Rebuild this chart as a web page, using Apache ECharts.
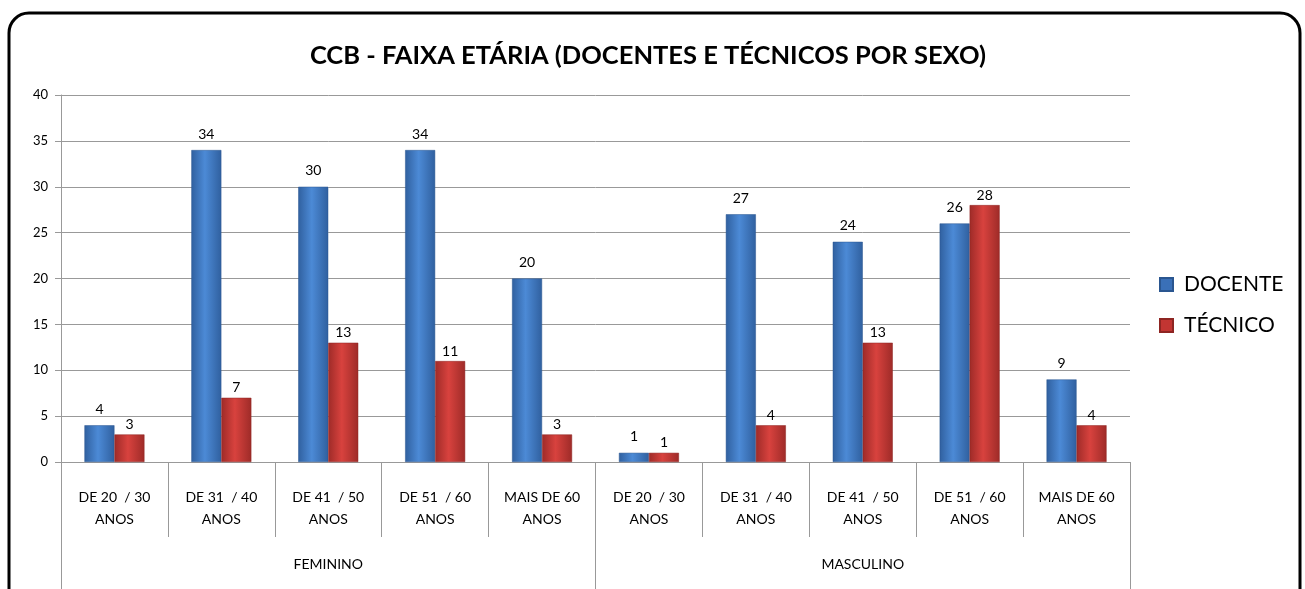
<!DOCTYPE html>
<html>
<head>
<meta charset="utf-8">
<script src="https://cdn.jsdelivr.net/npm/echarts@6/dist/echarts.min.js"></script>
<style>
  html, body { margin: 0; padding: 0; background: #fff; }
  #chart { width: 1305px; height: 589px; }
</style>
</head>
<body>
<div id="chart"></div>
<script>
// faixas etárias (repetidas para cada sexo)
var faixas = ['DE 20  / 30\nANOS', 'DE 31  / 40\nANOS', 'DE 41  / 50\nANOS', 'DE 51  / 60\nANOS', 'MAIS DE 60\nANOS',
              'DE 20  / 30\nANOS', 'DE 31  / 40\nANOS', 'DE 41  / 50\nANOS', 'DE 51  / 60\nANOS', 'MAIS DE 60\nANOS'];
var sexos = ['FEMININO', 'MASCULINO'];
var docente = [4, 34, 30, 34, 20, 1, 27, 24, 26, 9];
var tecnico = [3, 7, 13, 11, 3, 1, 4, 13, 28, 4];
var yTicks = { min: 0, max: 40, step: 5 };

var fonte = 'Lato, "Open Sans", sans-serif';

// gradiente horizontal para dar o efeito "cilindro" das barras
function grad(borda, meio) {
  return new echarts.graphic.LinearGradient(0, 0, 1, 0, [
    { offset: 0, color: borda },
    { offset: 0.45, color: meio },
    { offset: 1, color: borda }
  ]);
}

var myChart = echarts.init(document.getElementById('chart'));
var option = {
  animation: false,
  backgroundColor: '#fff',
  graphic: [{
    type: 'rect',
    shape: { x: 9, y: 13, width: 1291, height: 610, r: 20 },
    style: { fill: 'none', stroke: '#000', lineWidth: 3 },
    z: 100
  }],
  title: {
    text: 'CCB - FAIXA ETÁRIA (DOCENTES E TÉCNICOS POR SEXO)',
    left: 643,
    textAlign: 'center',
    top: 38,
    textStyle: { fontFamily: fonte, fontWeight: 'bold', fontSize: 25.5, color: '#000' }
  },
  legend: {
    orient: 'vertical',
    left: 1154,
    top: 269,
    itemGap: 20,
    itemWidth: 13,
    itemHeight: 13,
    icon: 'rect',
    textStyle: { fontFamily: fonte, fontSize: 21, color: '#000', padding: [0, 0, 0, 6] },
    data: [
      { name: 'DOCENTE', itemStyle: { color: '#3a70b8' } },
      { name: 'TÉCNICO', itemStyle: { color: '#c23532' } }
    ]
  },
  grid: { left: 61, right: 175, top: 95, bottom: 127 },
  xAxis: [{
    type: 'category',
    data: faixas,
    axisLine: { show: true, lineStyle: { color: '#999', width: 1 } },
    axisTick: { show: true, interval: 0, length: 75, lineStyle: { color: '#999', width: 1 } },
    axisLabel: { interval: 0, margin: 24, fontFamily: fonte, fontSize: 14, lineHeight: 22, color: '#000' }
  }, {
    type: 'category',
    data: sexos,
    position: 'bottom',
    axisLine: { show: false },
    axisTick: { show: true, interval: 0, length: 130, lineStyle: { color: '#999', width: 1 } },
    axisLabel: { margin: 95, fontFamily: fonte, fontSize: 14, color: '#000' }
  }],
  yAxis: {
    type: 'value',
    min: yTicks.min,
    max: yTicks.max,
    interval: yTicks.step,
    axisLine: { show: true, lineStyle: { color: '#999' } },
    axisTick: { show: true, length: 6, lineStyle: { color: '#999' } },
    axisLabel: { margin: 13, fontFamily: fonte, fontSize: 13, color: '#000' },
    splitLine: { lineStyle: { color: '#999', width: 1 } }
  },
  series: [{
    name: 'DOCENTE',
    type: 'bar',
    data: docente,
    barWidth: 30,
    barGap: '0%',
    itemStyle: { color: grad('#30609f', '#4c8ad6'), borderColor: '#2a5690', borderWidth: 0.5 },
    label: { show: true, position: 'top', distance: 9, fontFamily: fonte, fontSize: 14, color: '#000' }
  }, {
    name: 'TÉCNICO',
    type: 'bar',
    data: tecnico,
    barWidth: 30,
    itemStyle: { color: grad('#9e2b28', '#d8423e'), borderColor: '#8e2522', borderWidth: 0.5 },
    label: { show: true, position: 'top', distance: 3, fontFamily: fonte, fontSize: 14, color: '#000' }
  }]
};
myChart.setOption(option);
</script>
</body>
</html>
